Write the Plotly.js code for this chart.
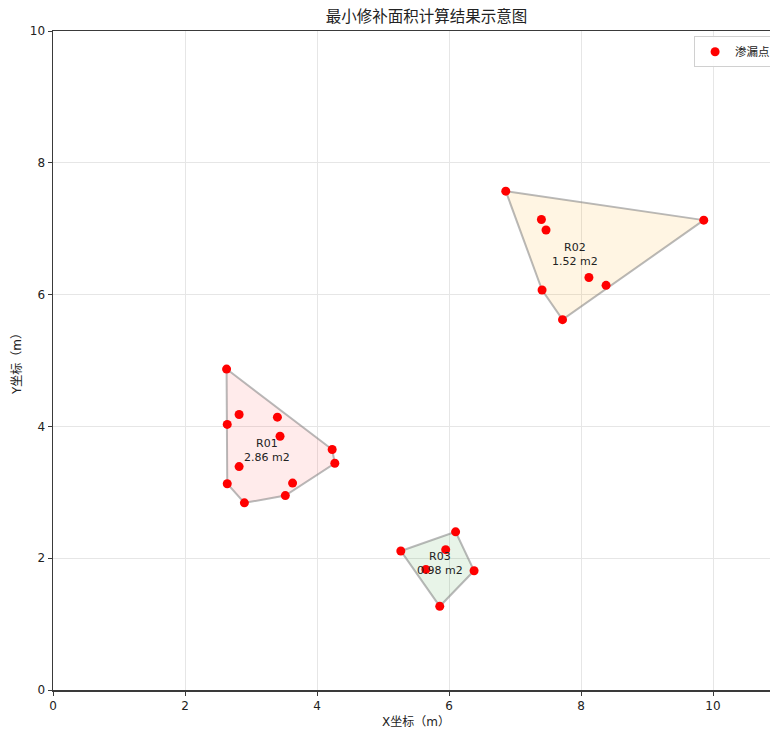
<!DOCTYPE html>
<html>
<head>
<meta charset="utf-8">
<script src="https://cdn.plot.ly/plotly-3.0.1.min.js"></script>
<style>
  html, body { margin: 0; padding: 0; overflow: hidden; background: #fff; }
  #chart { width: 790px; height: 729px; }
</style>
</head>
<body>
<div id="chart"></div>
<script>
// Leak points per repair region (metres)
const regionIds = ['R01', 'R02', 'R03'];
const regionAreas = [2.86, 1.52, 0.98];   // minimum repair area, m2
const r01X = [2.63, 2.82, 3.40, 2.64, 3.44, 4.23, 4.27, 2.82, 3.63, 2.64, 3.52, 2.90];
const r01Y = [4.87, 4.18, 4.14, 4.03, 3.85, 3.65, 3.44, 3.39, 3.14, 3.13, 2.95, 2.84];
const r02X = [6.86, 7.40, 7.47, 9.86, 8.12, 8.38, 7.41, 7.72];
const r02Y = [7.57, 7.14, 6.98, 7.13, 6.26, 6.14, 6.07, 5.62];
const r03X = [6.10, 5.27, 5.95, 5.65, 6.38, 5.86];
const r03Y = [2.40, 2.11, 2.13, 1.83, 1.81, 1.27];

const regionX = [r01X, r02X, r03X];
const regionY = [r01Y, r02Y, r03Y];
const fillColors = ['rgba(255,0,0,0.08)', 'rgba(255,165,0,0.11)', 'rgba(0,128,0,0.09)'];

// Convex hull (monotone chain), returns closed ring of [x, y]
function hull(xs, ys) {
  const pts = xs.map((x, i) => [x, ys[i]]).sort((a, b) => a[0] - b[0] || a[1] - b[1]);
  const cross = (o, a, b) => (a[0] - o[0]) * (b[1] - o[1]) - (a[1] - o[1]) * (b[0] - o[0]);
  const lower = [], upper = [];
  for (const p of pts) {
    while (lower.length >= 2 && cross(lower[lower.length - 2], lower[lower.length - 1], p) <= 0) lower.pop();
    lower.push(p);
  }
  for (let i = pts.length - 1; i >= 0; i--) {
    const p = pts[i];
    while (upper.length >= 2 && cross(upper[upper.length - 2], upper[upper.length - 1], p) <= 0) upper.pop();
    upper.push(p);
  }
  upper.pop(); lower.pop();
  const ring = lower.concat(upper);
  ring.push(ring[0]);
  return ring;
}
const mean = a => a.reduce((s, v) => s + v, 0) / a.length;

const traces = [];
regionIds.forEach((id, k) => {
  const ring = hull(regionX[k], regionY[k]);
  traces.push({
    x: ring.map(p => p[0]), y: ring.map(p => p[1]),
    type: 'scatter', mode: 'lines', fill: 'toself',
    fillcolor: fillColors[k],
    line: { color: 'rgba(128,128,128,0.55)', width: 2 },
    hoverinfo: 'skip', showlegend: false
  });
});

// All leak points as one legend entry
traces.push({
  x: [].concat(...regionX), y: [].concat(...regionY),
  type: 'scatter', mode: 'markers', name: '渗漏点',
  marker: { color: '#ff0000', size: 9 }
});

// Region name and area at the centre of its points
const annotations = regionIds.map((id, k) => ({
  x: mean(regionX[k]), y: mean(regionY[k]),
  text: id + '<br>' + regionAreas[k].toFixed(2) + ' m2',
  showarrow: false, borderpad: 0,
  font: { size: 11, color: '#222', family: 'DejaVu Sans, Noto Sans CJK SC' }
}));

const axisCommon = {
  showline: true, linecolor: '#3a3a3a', linewidth: 1.5, mirror: true,
  showgrid: true, gridcolor: '#e6e6e6', gridwidth: 1,
  zeroline: false, ticks: 'outside', ticklen: 4, tickcolor: '#3a3a3a',
  tickfont: { size: 12, color: '#222' }, dtick: 2
};

const layout = {
  width: 790, height: 729,
  margin: { l: 53, r: 11, t: 31, b: 39 },
  paper_bgcolor: '#fff', plot_bgcolor: '#fff',
  font: { family: 'DejaVu Sans, Noto Sans CJK SC, sans-serif', color: '#222' },
  title: { text: '最小修补面积计算结果示意图', x: 0.54, xanchor: 'center', y: 0.9767, yanchor: 'middle',
           font: { size: 15.5, color: '#222' } },
  xaxis: Object.assign({}, axisCommon, { range: [0, 11], tick0: 0,
           title: { text: 'X坐标（m）', font: { size: 12 }, standoff: 9 } }),
  yaxis: Object.assign({}, axisCommon, { range: [0, 10], tick0: 0,
           title: { text: 'Y坐标（m）', font: { size: 12 }, standoff: 5 } }),
  legend: { x: 0.996, xanchor: 'right', y: 0.992, yanchor: 'top',
            bgcolor: 'rgba(255,255,255,0.9)', bordercolor: '#d0d0d0', borderwidth: 1,
            font: { size: 11.5, color: '#222' } },
  annotations: annotations,
  showlegend: true
};

Plotly.newPlot('chart', traces, layout, { displayModeBar: false, staticPlot: true });
</script>
</body>
</html>
